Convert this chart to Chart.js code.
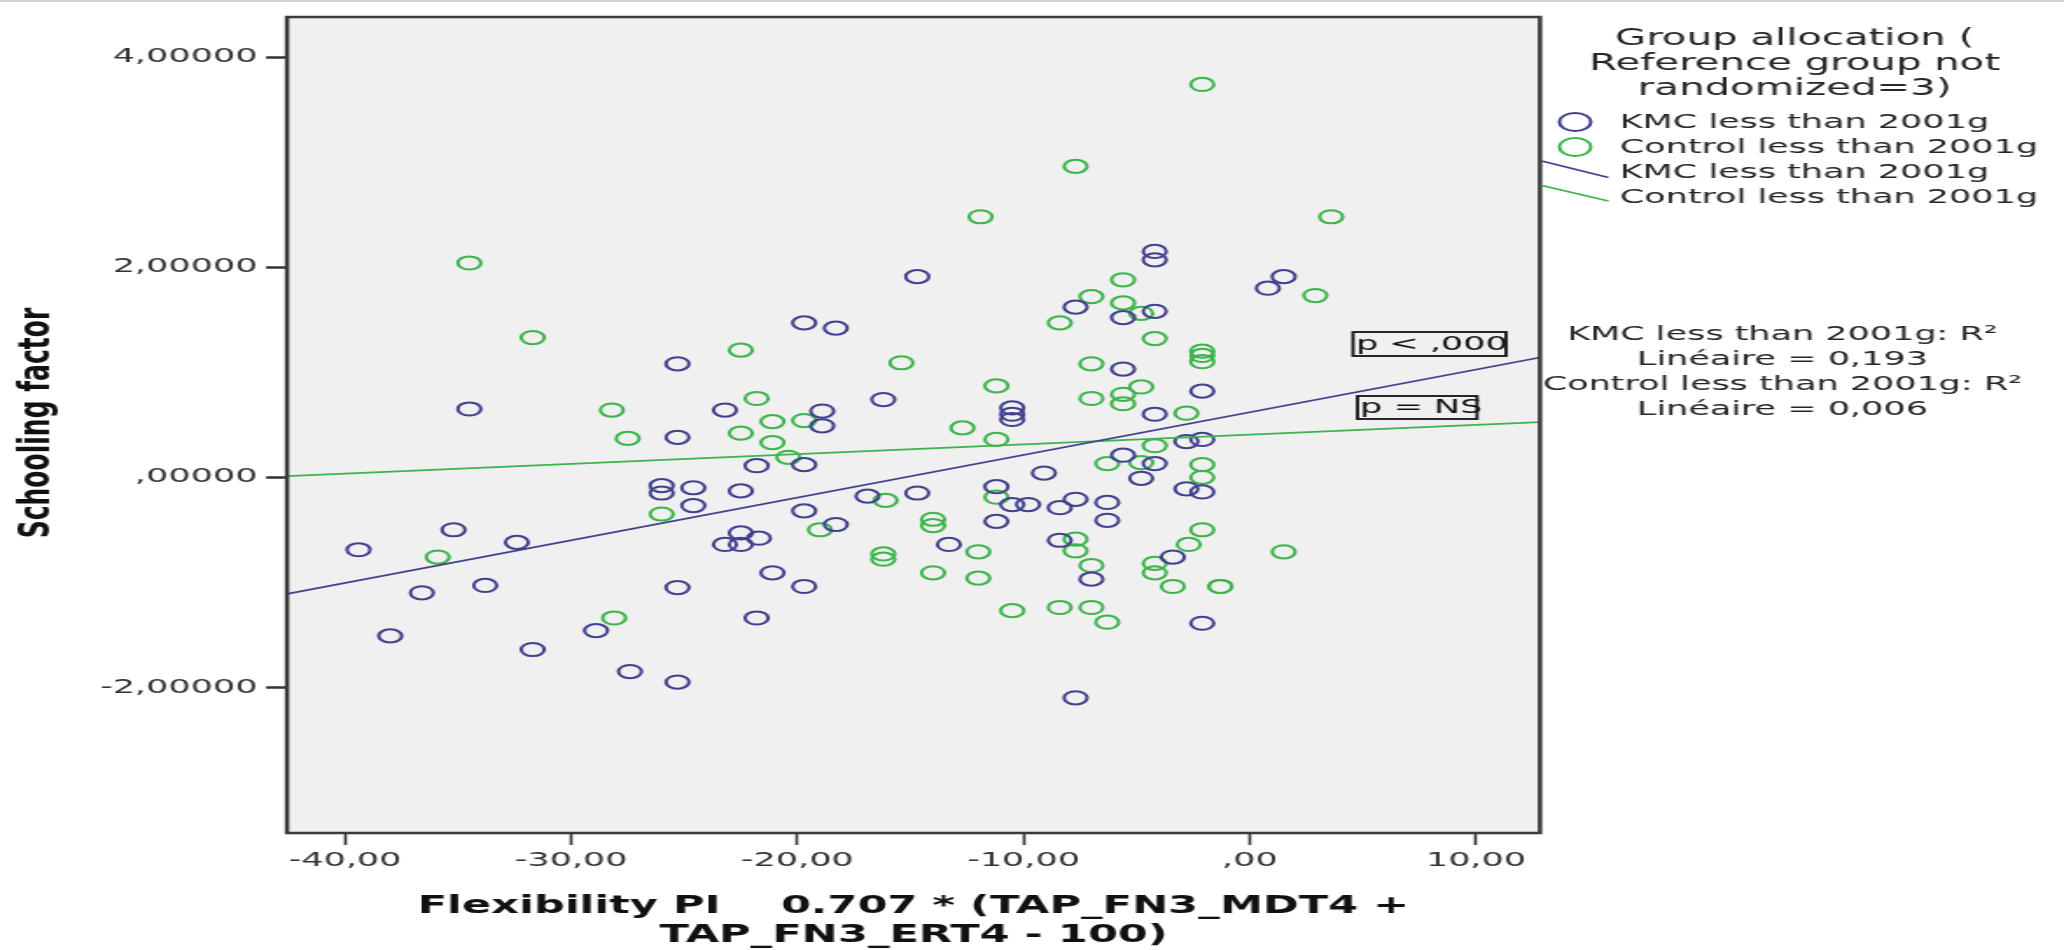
<!DOCTYPE html>
<html><head><meta charset="utf-8">
<script src="https://cdn.jsdelivr.net/npm/chart.js@4/dist/chart.umd.min.js"></script>
<style>
html,body{margin:0;padding:0;background:#fff;overflow:hidden;}
#wrap{position:absolute;left:0;top:0;width:2064px;height:950px;overflow:hidden;}
#c{position:absolute;left:0;top:0;transform-origin:0 0;transform:scaleX(1.749153);}
</style></head><body>
<div id="wrap"><canvas id="c" width="1180" height="950"></canvas></div>
<script>
// ---- data ----
const kmcX = [-39.4,-38.0,-36.6,-35.2,-34.5,-33.8,-32.4,-31.7,-28.9,-27.4,-26.0,-26.0,-25.3,-25.3,-25.3,-25.3,-24.6,-24.6,-23.2,-23.2,-22.5,-22.5,-22.5,-21.8,-21.7,-21.8,-21.1,-19.7,-19.7,-19.7,-19.7,-18.9,-18.9,-18.3,-18.3,-16.9,-16.2,-14.7,-14.7,-13.3,-11.2,-11.2,-10.5,-10.5,-10.5,-10.5,-9.8,-9.1,-8.4,-8.4,-7.7,-7.7,-7.7,-7.0,-6.3,-6.3,-5.6,-5.6,-5.6,-4.8,-4.2,-4.2,-4.2,-4.2,-4.2,-3.4,-2.8,-2.8,-2.1,-2.1,-2.1,-2.1,0.8,1.5];
const kmcY = [-0.69,-1.51,-1.10,-0.50,0.65,-1.03,-0.62,-1.64,-1.46,-1.85,-0.08,-0.15,1.08,0.38,-1.05,-1.95,-0.10,-0.27,0.64,-0.64,-0.13,-0.53,-0.64,0.11,-0.58,-1.34,-0.91,1.47,0.12,-0.32,-1.04,0.63,0.49,1.42,-0.45,-0.18,0.74,1.91,-0.15,-0.64,-0.09,-0.42,0.66,0.60,0.55,-0.26,-0.26,0.04,-0.29,-0.60,1.62,-0.21,-2.10,-0.97,-0.24,-0.41,1.52,1.03,0.21,-0.01,2.15,2.07,1.58,0.60,0.13,-0.76,0.34,-0.11,0.82,0.36,-0.14,-1.39,1.80,1.91];
const controlX = [-35.9,-34.5,-31.7,-28.2,-28.1,-27.5,-26.0,-22.5,-22.5,-21.8,-21.1,-21.1,-20.4,-19.7,-19.0,-16.2,-16.2,-16.1,-15.4,-14.0,-14.0,-14.0,-12.7,-12.0,-12.0,-11.9,-11.2,-11.2,-11.2,-10.5,-8.4,-8.4,-7.7,-7.7,-7.7,-7.0,-7.0,-7.0,-7.0,-7.0,-6.3,-6.3,-5.6,-5.6,-5.6,-5.6,-4.8,-4.8,-4.8,-4.2,-4.2,-4.2,-4.2,-3.4,-2.8,-2.7,-2.1,-2.1,-2.1,-2.1,-2.1,-2.1,-2.1,-1.3,-1.3,1.5,2.9,3.6];
const controlY = [-0.76,2.04,1.33,0.64,-1.34,0.37,-0.35,1.21,0.42,0.75,0.53,0.33,0.19,0.54,-0.50,-0.73,-0.78,-0.22,1.09,-0.40,-0.46,-0.91,0.47,-0.71,-0.96,2.48,0.87,0.36,-0.19,-1.27,1.47,-1.24,2.96,-0.59,-0.70,1.72,1.08,0.75,-0.84,-1.24,0.13,-1.38,1.88,1.66,0.79,0.70,1.56,0.86,0.14,1.32,0.30,-0.82,-0.91,-1.04,0.61,-0.64,3.74,1.20,1.16,1.10,0.12,0.00,-0.50,-1.04,-1.04,-0.71,1.73,2.48];
// fit lines: values at the two ends of the x range
const fitX = [-42.56, 12.83];
const kmcFitY = [-1.11, 1.14];
const controlFitY = [0.01, 0.525];
const xTicks = [-40, -30, -20, -10, 0, 10];
const xTickLabels = ['-40,00', '-30,00', '-20,00', '-10,00', ',00', '10,00'];
const yTicks = [-2, 0, 2, 4];
const yTickLabels = ['-2,00000', ',00000', '2,00000', '4,00000'];
const seriesNames = ['KMC less than 2001g', 'Control less than 2001g'];
const legendTitle = ['Group allocation (', 'Reference group not', 'randomized=3)'];
const r2Lines = ['KMC less than 2001g: R\u00B2', 'Lin\u00E9aire = 0,193', 'Control less than 2001g: R\u00B2', 'Lin\u00E9aire = 0,006'];
const pLabels = ['p < ,000', 'p = NS'];
const xTitle = ['Flexibility PI    0.707 * (TAP_FN3_MDT4 +', 'TAP_FN3_ERT4 - 100)'];
const yTitle = 'Schooling factor';

// ---- styling ----
const BLUE = '#40408e';
const GREEN = '#3cb44b';
const FONT = '"DejaVu Sans", Verdana, sans-serif';
const zip = (xs, ys) => xs.map((x, i) => ({x, y: ys[i]}));

const bgPlugin = {
  id: 'bg',
  beforeDraw(chart) {
    const {ctx, chartArea: a} = chart;
    ctx.save();
    ctx.fillStyle = '#ffffff';
    ctx.fillRect(0, 0, chart.width, chart.height);
    ctx.fillStyle = '#d2d2d2';
    ctx.fillRect(0, 0, chart.width, 2);
    ctx.fillStyle = '#f0f0f0';
    ctx.fillRect(a.left, a.top, a.right - a.left, a.bottom - a.top);
    ctx.restore();
  }
};

const decorPlugin = {
  id: 'decor',
  afterDraw(chart) {
    const {ctx, chartArea: a} = chart;
    ctx.save();
    // frame
    ctx.strokeStyle = '#3a3a3a';
    ctx.lineWidth = 2.5;
    ctx.strokeRect(a.left, a.top, a.right - a.left, a.bottom - a.top);

    // axis titles
    ctx.fillStyle = '#111';
    ctx.font = 'bold 24.7px ' + FONT;
    ctx.textAlign = 'center';
    ctx.textBaseline = 'alphabetic';
    const cx = (a.left + a.right) / 2;
    ctx.fillText(xTitle[0], cx, 913);
    ctx.fillText(xTitle[1], cx, 941.5);
    ctx.save();
    ctx.font = 'bold 25px ' + FONT;
    ctx.translate(21.5, (a.top + a.bottom) / 2 - 2);
    ctx.rotate(-Math.PI / 2);
    ctx.textBaseline = 'middle';
    ctx.fillText(yTitle, 0, 0);
    ctx.restore();

    // legend title
    ctx.fillStyle = '#262626';
    ctx.font = '23px ' + FONT;
    ctx.textAlign = 'center';
    ctx.textBaseline = 'alphabetic';
    const lx = 1026;
    ctx.fillText(legendTitle[0], lx, 45);
    ctx.fillText(legendTitle[1], lx, 70);
    ctx.fillText(legendTitle[2], lx, 94.5);

    // legend items
    ctx.font = '20px ' + FONT;
    ctx.textAlign = 'left';
    ctx.textBaseline = 'middle';
    const tx = 926;
    const rows = [122, 147, 172, 197];
    const cols = [BLUE, GREEN];
    for (let i = 0; i < 2; i++) {
      ctx.strokeStyle = cols[i];
      ctx.lineWidth = 2;
      ctx.beginPath();
      ctx.arc(900.5, rows[i], 9, 0, Math.PI * 2);
      ctx.stroke();
      ctx.fillStyle = '#262626';
      ctx.fillText(seriesNames[i], tx, rows[i] + 1);
    }
    ctx.lineWidth = 1.6;
    ctx.strokeStyle = BLUE;
    ctx.beginPath(); ctx.moveTo(a.right + 1, 161); ctx.lineTo(919.5, 177.5); ctx.stroke();
    ctx.strokeStyle = GREEN;
    ctx.beginPath(); ctx.moveTo(a.right + 1, 185.5); ctx.lineTo(919.5, 201); ctx.stroke();
    ctx.fillStyle = '#262626';
    ctx.fillText(seriesNames[0], tx, rows[2] + 1);
    ctx.fillText(seriesNames[1], tx, rows[3] + 1);

    // R2 block
    ctx.textAlign = 'center';
    const r2y = [335, 360, 385, 409.5];
    r2Lines.forEach((t, i) => ctx.fillText(t, 1019, r2y[i]));

    // p-value boxes
    ctx.fillStyle = '#111';
    ctx.textAlign = 'left';
    ctx.fillText(pLabels[0], 775.3, 344.5);
    ctx.fillText(pLabels[1], 777.6, 408);
    ctx.strokeStyle = '#111';
    ctx.lineWidth = 1.8;
    ctx.strokeRect(773.5, 332, 87.5, 24);
    ctx.strokeRect(776.1, 396, 68.3, 23);
    ctx.restore();
  }
};

const ctx = document.getElementById('c').getContext('2d');
new Chart(ctx, {
  type: 'scatter',
  data: {
    datasets: [
      {label: seriesNames[0] + ' fit', data: zip(fitX, kmcFitY), showLine: true, borderColor: BLUE, borderWidth: 1.7, pointRadius: 0, fill: false},
      {label: seriesNames[1] + ' fit', data: zip(fitX, controlFitY), showLine: true, borderColor: GREEN, borderWidth: 1.7, pointRadius: 0, fill: false},
      {label: seriesNames[0], data: zip(kmcX, kmcY), borderColor: BLUE, backgroundColor: 'rgba(0,0,0,0)', pointRadius: 6.6, pointHoverRadius: 6.6, pointBorderWidth: 2, borderWidth: 2},
      {label: seriesNames[1], data: zip(controlX, controlY), borderColor: GREEN, backgroundColor: 'rgba(0,0,0,0)', pointRadius: 6.6, pointHoverRadius: 6.6, pointBorderWidth: 2, borderWidth: 2}
    ]
  },
  options: {
    responsive: false,
    animation: false,
    devicePixelRatio: 1,
    events: [],
    layout: {padding: {left: 0, top: 9.5, right: 299.6, bottom: 0}},
    plugins: {legend: {display: false}, tooltip: {enabled: false}},
    scales: {
      x: {
        type: 'linear', min: -42.56, max: 12.83,
        afterFit(s) { s.height = 117; },
        afterBuildTicks(s) { s.ticks = xTicks.map(v => ({value: v})); },
        ticks: {callback: v => xTickLabels[xTicks.indexOf(v)], font: {family: FONT, size: 20}, color: '#333', padding: 4, maxRotation: 0, autoSkip: false},
        grid: {drawOnChartArea: false, drawTicks: true, tickLength: 12, tickWidth: 1.6, tickColor: '#333'},
        border: {display: false}
      },
      y: {
        type: 'linear', min: -3.387, max: 4.382,
        afterFit(s) { s.width = 164.1; },
        afterBuildTicks(s) { s.ticks = yTicks.map(v => ({value: v})); },
        ticks: {callback: v => yTickLabels[yTicks.indexOf(v)], font: {family: FONT, size: 20}, color: '#333', padding: 5, autoSkip: false},
        grid: {drawOnChartArea: false, drawTicks: true, tickLength: 12, tickWidth: 2.5, tickColor: '#333'},
        border: {display: false}
      }
    }
  },
  plugins: [bgPlugin, decorPlugin]
});
</script>
</body></html>
